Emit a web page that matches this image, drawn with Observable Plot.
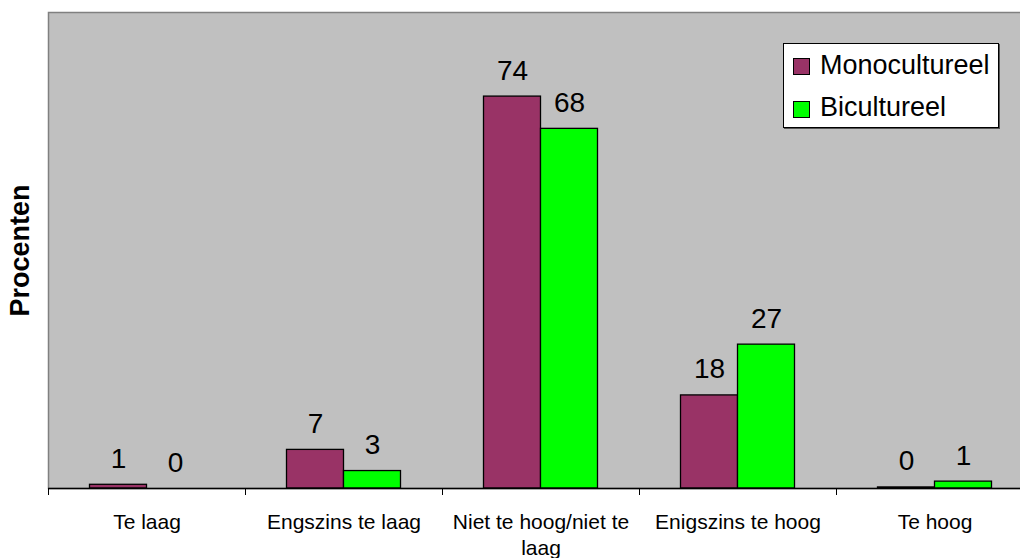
<!DOCTYPE html>
<html>
<head>
<meta charset="utf-8">
<script src="https://cdn.jsdelivr.net/npm/d3@7"></script>
<script src="https://cdn.jsdelivr.net/npm/@observablehq/plot@0.6"></script>
<style>
  html, body { margin: 0; padding: 0; background: #fff; overflow: hidden; }
  #wrap { position: relative; width: 1020px; height: 558px; font-family: Arial, "Liberation Sans", sans-serif; }
  #legend { position: absolute; left: 783px; top: 43px; width: 214px; height: 83px; background: #fff;
            border: 1px solid #000; box-shadow: 1px 1px 0 #555; }
  .item { position: absolute; left: 0; height: 27px; line-height: 27px; font-size: 27px; color: #000; white-space: nowrap; }
  .sw { position: absolute; left: 9px; width: 15px; height: 15px; border: 1px solid #000; }
  .lbl { position: absolute; left: 36px; }
</style>
</head>
<body>
<div id="wrap"></div>
<script>
// ---- data ----
const categories = ["Te laag", "Engszins te laag", "Niet te hoog/niet te laag", "Enigszins te hoog", "Te hoog"];
const tickLabels = ["Te laag", "Engszins te laag", "Niet te hoog/niet te\nlaag", "Enigszins te hoog", "Te hoog"];
const series = ["Monocultureel", "Bicultureel"];
const monocultureel = [0.7, 7.3, 74.1, 17.6, 0.2];
const bicultureel = [0.0, 3.3, 68.0, 27.2, 1.3];
const colors = ["#993366", "#00ff00"];
const yLabel = "Procenten";

// ---- layout ----
const W = 1020, H = 558;
const mL = 48, mR = -13, mT = 12, mB = 70;
const bw = (W - mL - mR) / categories.length;   // band width per category
const barW = 57;
const outer = (bw - 2 * barW) / 2;

const monoData = categories.map((c, i) => ({cat: c, series: series[0], value: monocultureel[i]}));
const biData = categories.map((c, i) => ({cat: c, series: series[1], value: bicultureel[i]}));

const chart = Plot.plot({
  width: W, height: H,
  marginLeft: mL, marginRight: mR, marginTop: mT, marginBottom: mB,
  style: {fontFamily: "Arial, 'Liberation Sans', sans-serif", background: "transparent", overflow: "visible"},
  x: {type: "band", domain: categories, padding: 0, label: null},
  y: {domain: [0, 90], axis: null, label: null},
  marks: [
    Plot.frame({fill: "#c0c0c0", stroke: "#808080", strokeWidth: 1.5}),
    Plot.barY(monoData, {x: "cat", y: "value", fill: colors[0], stroke: "#000", strokeWidth: 1.3,
      insetLeft: outer, insetRight: outer + barW}),
    Plot.barY(biData, {x: "cat", y: "value", fill: colors[1], stroke: "#000", strokeWidth: 1.3,
      insetLeft: outer + barW, insetRight: outer}),
    Plot.ruleY([0], {stroke: "#000", strokeWidth: 1.3}),
    Plot.text(monoData, {x: "cat", y: "value", text: d => String(Math.round(d.value)),
      dx: -barW / 2, dy: -17, lineAnchor: "bottom", fontSize: 28, fill: "#000"}),
    Plot.text(biData, {x: "cat", y: "value", text: d => String(Math.round(d.value)),
      dx: barW / 2, dy: -17, lineAnchor: "bottom", fontSize: 28, fill: "#000"}),
    Plot.axisX({tickSize: 7, tickFormat: () => "", label: null, dx: -bw / 2, stroke: "#000"}),
    Plot.text(categories, {x: d => d, text: (d, i) => tickLabels[i], frameAnchor: "bottom",
      dy: 22, lineAnchor: "top", lineHeight: 1.24, fontSize: 21, fill: "#000"}),
    Plot.text([yLabel], {frameAnchor: "left", text: d => d, dx: -28, rotate: -90, textAnchor: "middle",
      fontWeight: "bold", fontSize: 27, fill: "#000"})
  ]
});

const wrap = document.getElementById("wrap");
wrap.appendChild(chart);

// legend (inside plot area, top-right)
const legend = document.createElement("div");
legend.id = "legend";
series.forEach((s, i) => {
  const item = document.createElement("div");
  item.className = "item";
  item.style.top = (i === 0 ? 8 : 50) + "px";
  item.style.width = "100%";
  const sw = document.createElement("span");
  sw.className = "sw";
  sw.style.background = colors[i];
  sw.style.top = (i === 0 ? 6 : 7) + "px";
  const lb = document.createElement("span");
  lb.className = "lbl";
  lb.textContent = s;
  item.appendChild(sw);
  item.appendChild(lb);
  legend.appendChild(item);
});
wrap.appendChild(legend);
</script>
</body>
</html>
